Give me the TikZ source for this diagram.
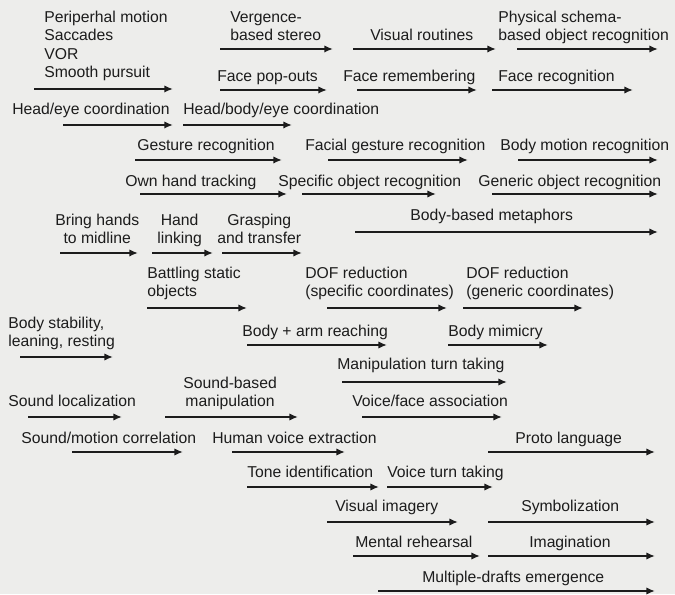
\documentclass[tikz,border=0pt]{standalone}
\usepackage{fontspec}
\setmainfont{Liberation Sans}
\usetikzlibrary{arrows.meta}
\definecolor{DEVpaper}{HTML}{EDEDEB}
\definecolor{DEVink}{HTML}{1C1C1C}
\newcommand{\stagearrow}[7][]{%
    \coordinate (#2-s) at (#3, #5);
    \coordinate (#2-e) at (#4, #5);
    \draw[stagearr] (#2-s) -- (#2-e);
    \node[stagelbl, #1] (#2) at (#6) {#7};
}
\begin{document}
\begin{tikzpicture}[
    x=0.75pt, y=-0.75pt,
    stagearr/.style={draw=DEVink, line width=1.7pt,
                     -{Latex[length=6.5pt, width=5.5pt]}},
    stagelbl/.style={anchor=base west, inner sep=0pt, text=DEVink, align=left,
                     font=\fontsize{11.8}{13.9}\selectfont},
]

% --- Paper (pixel grid, y downwards; label y = baseline of last line) ---
\fill[DEVpaper] (0, 0) rectangle (675, 594);

% --- Vision: first two rows ---
\stagearrow{periph}{34}{173}{89}{44, 78}{Periperhal motion\\Saccades\\VOR\\Smooth pursuit}
\stagearrow{verg}{220}{333}{49}{230, 41}{Vergence-\\based stereo}
\stagearrow{visrout}{353}{496}{49}{370, 41}{Visual routines}
\stagearrow{physch}{517}{658}{49}{498, 41}{Physical schema-\\based object recognition}
\stagearrow{facepop}{220}{327}{90}{217, 82}{Face pop-outs}
\stagearrow{facerem}{357}{477}{90}{343, 82}{Face remembering}
\stagearrow{facerec}{492}{633}{90}{498, 82}{Face recognition}

% --- Coordination and recognition ---
\stagearrow{headeye}{63}{173}{125}{12, 115}{Head/eye coordination}
\stagearrow{headbody}{183}{292}{125}{183, 115}{Head/body/eye coordination}
\stagearrow{gesture}{135}{282}{160}{137, 151}{Gesture recognition}
\stagearrow{facegest}{328}{468}{160}{305, 151}{Facial gesture recognition}
\stagearrow{bodymot}{518}{658}{160}{500, 151}{Body motion recognition}
\stagearrow{ownhand}{140}{287}{194}{125, 187}{Own hand tracking}
\stagearrow{specobj}{302}{436}{194}{278, 187}{Specific object recognition}
\stagearrow{genobj}{492}{658}{194}{478, 187}{Generic object recognition}

% --- Hands and body ---
\stagearrow[align=center]{bringh}{60}{138}{253}{55, 244}{Bring hands\\to midline}
\stagearrow[align=center]{handlink}{152}{213}{253}{157, 244}{Hand\\linking}
\stagearrow[align=center]{grasp}{222}{302}{253}{217, 244}{Grasping\\and transfer}
\stagearrow{bodymeta}{355}{658}{232}{410, 221}{Body-based metaphors}
\stagearrow{battle}{147}{247}{308}{147, 297}{Battling static\\objects}
\stagearrow{dofspec}{327}{447}{308}{305, 297}{DOF reduction\\(specific coordinates)}
\stagearrow{dofgen}{463}{583}{308}{466, 297}{DOF reduction\\(generic coordinates)}
\stagearrow{bodystab}{20}{113}{357}{8, 347}{Body stability,\\leaning, resting}
\stagearrow{bodyarm}{247}{387}{345}{242, 337}{Body + arm reaching}
\stagearrow{mimicry}{448}{548}{345}{448, 337}{Body mimicry}
\stagearrow{manturn}{342}{507}{382}{337, 370}{Manipulation turn taking}

% --- Sound and voice ---
\stagearrow{soundloc}{28}{122}{417}{8, 407}{Sound localization}
\stagearrow[align=center]{soundman}{165}{298}{417}{183, 407}{Sound-based\\manipulation}
\stagearrow{voiceface}{362}{502}{417}{352, 407}{Voice/face association}
\stagearrow{soundmot}{72}{183}{452}{21, 444}{Sound/motion correlation}
\stagearrow{humvoice}{232}{345}{452}{212, 444}{Human voice extraction}
\stagearrow{proto}{488}{655}{452}{515, 444}{Proto language}
\stagearrow{tone}{247}{379}{487}{247, 478}{Tone identification}
\stagearrow{voiceturn}{387}{493}{487}{387, 478}{Voice turn taking}

% --- Imagery and symbols ---
\stagearrow{visimg}{327}{458}{522}{335, 512}{Visual imagery}
\stagearrow{symbol}{488}{655}{522}{521, 512}{Symbolization}
\stagearrow{mental}{353}{480}{556}{355, 547}{Mental rehearsal}
\stagearrow{imagin}{488}{655}{556}{529, 547}{Imagination}
\stagearrow{drafts}{378}{655}{591}{422, 582}{Multiple-drafts emergence}

\end{tikzpicture}
\end{document}
